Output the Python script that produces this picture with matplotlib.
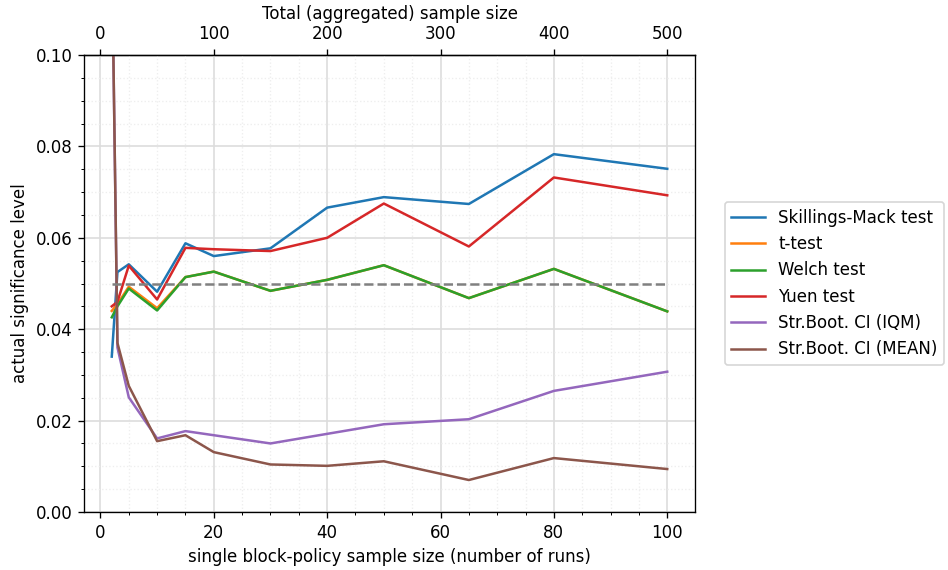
import matplotlib
matplotlib.use("Agg")
import matplotlib.pyplot as plt
from matplotlib.ticker import AutoMinorLocator

n_runs = [2, 3, 5, 10, 15, 20, 30, 40, 50, 65, 80, 100]

skillings_mack = [0.034, 0.0525, 0.0542, 0.0482, 0.0588, 0.0560, 0.0577, 0.0666, 0.0689, 0.0674, 0.0783, 0.0751]
t_test = [0.0440, 0.0455, 0.0493, 0.0446, 0.0514, 0.0526, 0.0484, 0.0508, 0.0540, 0.0468, 0.0532, 0.0439]
welch = [0.0426, 0.0450, 0.0489, 0.0441, 0.0514, 0.0526, 0.0484, 0.0508, 0.0540, 0.0468, 0.0532, 0.0439]
yuen = [0.0450, 0.0460, 0.0539, 0.0465, 0.0578, 0.0575, 0.0571, 0.0600, 0.0675, 0.0581, 0.0732, 0.0693]
boot_iqm = [0.125, 0.036, 0.0251, 0.0161, 0.0177, 0.0168, 0.0150, 0.0171, 0.0192, 0.0203, 0.0265, 0.0307]
boot_mean = [0.125, 0.037, 0.0276, 0.0155, 0.0168, 0.0131, 0.0104, 0.0101, 0.0111, 0.0070, 0.0118, 0.0094]

series = [
    ("Skillings-Mack test", skillings_mack),
    ("t-test", t_test),
    ("Welch test", welch),
    ("Yuen test", yuen),
    ("Str.Boot. CI (IQM)", boot_iqm),
    ("Str.Boot. CI (MEAN)", boot_mean),
]
alpha_level = 0.05

fig = plt.figure(figsize=(7.9, 4.75), dpi=120)
ax = fig.add_axes([84 / 948, 1 - 512 / 570, (695 - 84) / 948, (512 - 55) / 570])

for label, vals in series:
    ax.plot(n_runs, vals, label=label, lw=1.5)
ax.plot([n_runs[0], n_runs[-1]], [alpha_level, alpha_level], ls="--", color="gray", lw=1.5)

ax.set_ylim(0, 0.1)
ax.xaxis.set_minor_locator(AutoMinorLocator(4))
ax.yaxis.set_minor_locator(AutoMinorLocator(4))
ax.grid(which="major", color="#dddddd", lw=1.0)
ax.grid(which="minor", color="#eeeeee", ls=":", lw=0.8)
ax.set_axisbelow(True)
ax.set_xlabel("single block-policy sample size (number of runs)")
ax.set_ylabel("actual significance level")

sec = ax.secondary_xaxis("top", functions=(lambda x: x * 5, lambda x: x / 5))
sec.set_xlabel("Total (aggregated) sample size")

ax.legend(loc="center left", bbox_to_anchor=(1.035, 0.5))

fig.savefig("out.png", dpi=120)
